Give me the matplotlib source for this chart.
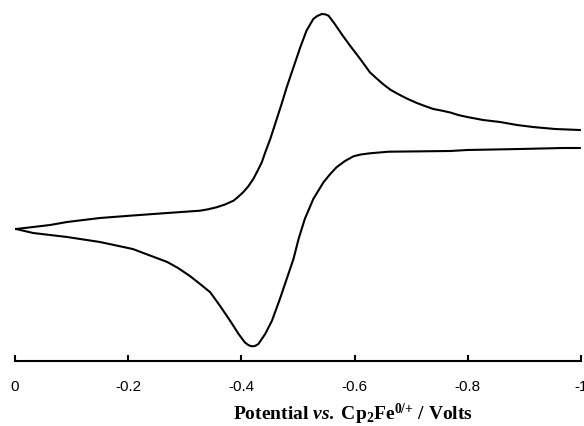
import matplotlib
matplotlib.use("Agg")
import matplotlib.pyplot as plt

# Forward scan (0 -> -1 V), potential vs Cp2Fe0/+ and current (arb. units)
fwd_E = [-0.002, -0.032, -0.062, -0.092, -0.150, -0.208, -0.269, -0.327, -0.341,
         -0.356, -0.371, -0.386, -0.394, -0.403, -0.412, -0.421, -0.428, -0.436,
         -0.443, -0.451, -0.471, -0.480, -0.492, -0.504, -0.515, -0.527, -0.534,
         -0.542, -0.548, -0.554, -0.565, -0.577, -0.592, -0.610, -0.627, -0.638,
         -0.650, -0.664, -0.680, -0.694, -0.710, -0.724, -0.739, -0.753, -0.769,
         -0.783, -0.799, -0.827, -0.857, -0.887, -0.915, -0.954, -0.998]
fwd_I = [0.00, 0.02, 0.04, 0.07, 0.11, 0.135, 0.16, 0.183, 0.197,
         0.217, 0.245, 0.283, 0.32, 0.367, 0.425, 0.50, 0.575, 0.667,
         0.78, 0.90, 1.25, 1.417, 1.617, 1.817, 1.983, 2.10, 2.13,
         2.15, 2.147, 2.133, 2.05, 1.95, 1.833, 1.70, 1.567, 1.51,
         1.45, 1.39, 1.34, 1.30, 1.26, 1.23, 1.20, 1.185, 1.165,
         1.14, 1.12, 1.09, 1.07, 1.04, 1.02, 1.00, 0.99]

# Reverse scan (-1 -> 0 V)
rev_E = [-0.998, -0.968, -0.892, -0.799, -0.769, -0.660, -0.627, -0.611, -0.598,
         -0.583, -0.568, -0.557, -0.545, -0.527, -0.512, -0.501, -0.492, -0.480,
         -0.468, -0.454, -0.442, -0.430, -0.424, -0.418, -0.412, -0.406, -0.395,
         -0.380, -0.362, -0.345, -0.327, -0.309, -0.288, -0.269, -0.208, -0.150,
         -0.092, -0.032, -0.002]
rev_I = [0.81, 0.81, 0.80, 0.79, 0.78, 0.773, 0.757, 0.745, 0.727,
         0.68, 0.617, 0.55, 0.467, 0.30, 0.10, -0.10, -0.30, -0.50,
         -0.70, -0.917, -1.05, -1.15, -1.17, -1.173, -1.16, -1.133, -1.05,
         -0.917, -0.767, -0.633, -0.55, -0.47, -0.39, -0.33, -0.20, -0.13,
         -0.08, -0.04, 0.00]

xticks = [0, -0.2, -0.4, -0.6, -0.8, -1]
xticklabels = ["0", "-0.2", "-0.4", "-0.6", "-0.8", "-1"]

plt.rcParams['mathtext.fontset'] = 'custom'
plt.rcParams['mathtext.rm'] = 'Liberation Serif:bold'
plt.rcParams['mathtext.it'] = 'Liberation Serif:bold:italic'
plt.rcParams['mathtext.bf'] = 'Liberation Serif:bold'

W, H = 584, 427
fig = plt.figure(figsize=(W / 100, H / 100), dpi=100)
ax = fig.add_axes([15 / W, 65 / H, 566 / W, 357 / H])

ax.plot(fwd_E, fwd_I, color='black', lw=1.5, solid_joinstyle='round')
ax.plot(rev_E, rev_I, color='black', lw=1.5, solid_joinstyle='round')

ax.set_xlim(0, -1)
ax.set_ylim(-1.32, 2.25)
for s in ['top', 'right', 'left']:
    ax.spines[s].set_visible(False)
ax.spines['bottom'].set_linewidth(1.5)
ax.set_yticks([])
ax.set_xticks(xticks)
ax.set_xticklabels(xticklabels, fontfamily='Liberation Sans', fontsize=11)
ax.tick_params(axis='x', direction='in', length=4, width=1.5, pad=13)

fig.text(353 / W, 1 - 420 / H,
         r'Potential $\mathit{vs.}\;$Cp$_2$Fe$^{0/{+}}$ / Volts',
         ha='center', va='baseline', fontfamily='Liberation Serif',
         fontweight='bold', fontsize=14)

fig.savefig('out.png', dpi=100)
